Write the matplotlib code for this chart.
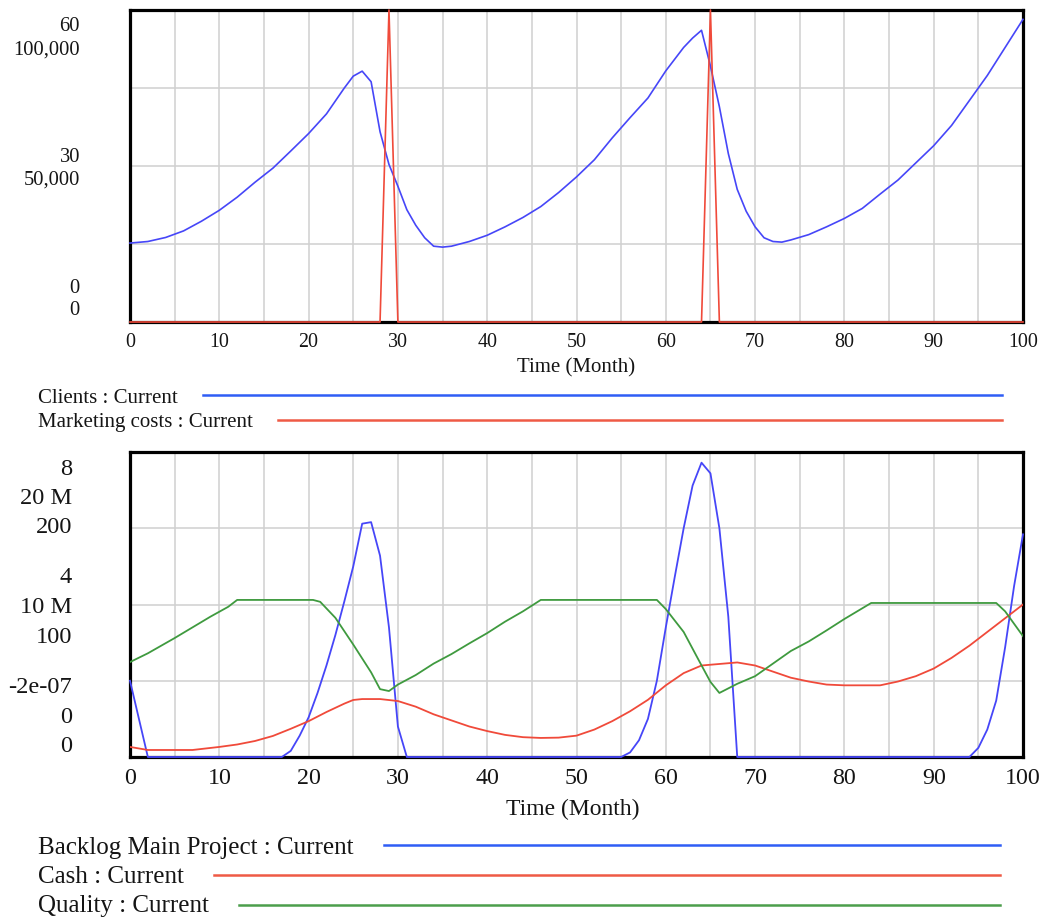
import numpy as np
import matplotlib.pyplot as plt
from matplotlib.lines import Line2D

plt.rcParams['font.family'] = ['Liberation Serif', 'DejaVu Serif']

# ---- upper panel: Clients and Marketing costs over time (months) ----
clients_t = [0, 2, 4, 6, 8, 10, 12, 14, 16, 18, 20, 22, 24, 25, 26, 27, 28, 29, 30,
             31, 32, 33, 34, 35, 36, 38, 40, 42, 44, 46, 48, 50, 52, 54, 56, 58, 60,
             62, 63, 64, 65, 66, 67, 68, 69, 70, 71, 72, 73, 74, 76, 78, 80, 82, 84,
             86, 88, 90, 92, 94, 96, 98, 100]
clients = [25300, 25800, 27100, 29200, 32300, 35800, 40000, 44800, 49300, 54800,
           60400, 66700, 75000, 78800, 80400, 77000, 61000, 50500, 43500,
           36000, 31000, 27000, 24300, 24000, 24300, 25800, 27800, 30500, 33500,
           37000, 41500, 46500, 52000, 59000, 65500, 71800, 80500,
           88000, 91000, 93500, 82000, 69000, 54000, 42500, 35500, 30500, 27000,
           25800, 25600, 26300, 28000, 30500, 33200, 36400, 41000,
           45500, 51000, 56500, 63000, 71000, 79000, 88000, 97000]

marketing_t = [0, 28, 29, 30, 64, 65, 66, 100]
marketing = [0, 0, 60, 0, 0, 60, 0, 0]

# ---- lower panel: Backlog, Cash (millions) and Quality ----
backlog_t = [0, 2, 17, 18, 19, 20, 21, 22, 23, 24, 25, 26, 27, 28, 29, 30, 31,
             55, 56, 57, 58, 59, 60, 61, 62, 63, 64, 65, 66, 67, 68,
             94, 95, 96, 97, 98, 99, 100]
backlog = [50, 0, 0, 4, 14, 26, 42, 60, 80, 102, 125, 153, 154, 132, 85, 20, 0,
           0, 3, 11, 25, 50, 85, 118, 150, 178, 193, 186, 150, 92, 0,
           0, 6, 18, 37, 72, 112, 146]

cash_t = [0, 2, 7, 10, 12, 14, 16, 18, 20, 22, 24, 25, 26, 28, 30, 32, 34, 36, 38,
          40, 42, 44, 46, 48, 50, 52, 54, 56, 58, 60, 62, 64, 66, 68, 70, 72, 74,
          76, 78, 80, 84, 86, 88, 90, 92, 94, 96, 98, 100]
cash_m = [0.66, 0.46, 0.46, 0.66, 0.82, 1.05, 1.38, 1.85, 2.35, 2.95, 3.5, 3.74,
          3.8, 3.8, 3.67, 3.3, 2.8, 2.4, 2.0, 1.7, 1.45, 1.3, 1.25, 1.27, 1.4,
          1.8, 2.35, 3.0, 3.75, 4.7, 5.5, 6.0, 6.1, 6.2, 6.0, 5.6, 5.2, 4.95,
          4.75, 4.7, 4.7, 4.95, 5.3, 5.8, 6.5, 7.3, 8.2, 9.1, 10.0]

quality_t = [0, 2, 5, 7, 9, 11, 12, 20.5, 21.3, 23, 25, 27, 28, 29, 30, 32, 34, 36,
             38, 40, 42, 44, 46, 59, 60, 62, 63.8, 65, 66, 68, 70, 72, 74, 76, 78,
             80, 82, 83, 97, 98, 100]
quality = [2.49, 2.72, 3.12, 3.4, 3.68, 3.94, 4.12, 4.12, 4.07, 3.65, 2.95, 2.22,
           1.78, 1.73, 1.9, 2.15, 2.45, 2.7, 2.98, 3.25, 3.55, 3.82, 4.12, 4.12,
           3.88, 3.28, 2.49, 1.97, 1.68, 1.92, 2.12, 2.45, 2.78, 3.03, 3.32, 3.62,
           3.9, 4.04, 4.04, 3.82, 3.17]

# stacked scale labels (top, middle, bottom of each panel)
top_scale_labels = [["60", "100,000"], ["30", "50,000"], ["0", "0"]]
bottom_scale_labels = [["8", "20 M", "200"], ["4", "10 M", "100"], ["-2e-07", "0", "0"]]

top_legend = ["Clients : Current", "Marketing costs : Current"]
bottom_legend = ["Backlog Main Project : Current", "Cash : Current", "Quality : Current"]

BLUE = '#4646f8'
RED = '#f04a3a'
GREEN = '#3f9a3f'
LEG_BLUE = '#2f5df5'
LEG_RED = '#ef5a45'
LEG_GREEN = '#4c9e4c'
TXT = '#151515'

W, H = 1045, 920
fig = plt.figure(figsize=(W / 100, H / 100), dpi=100)


def fx(px):
    return px / W


def fy(py):
    return 1 - py / H


def make_panel(top, bottom, tick_size, tick_pad):
    ax = fig.add_axes([fx(130), fy(bottom), fx(1023) - fx(130), (bottom - top) / H])
    ax.set_xlim(0, 100)
    ax.set_ylim(0, 4)
    ax.set_xticks(range(0, 101, 10))
    ax.set_xticks(range(0, 101, 5), minor=True)
    ax.set_yticks([1, 2, 3])
    ax.tick_params(which='both', length=0)
    ax.tick_params(axis='y', labelleft=False)
    ax.tick_params(axis='x', labelsize=tick_size, pad=tick_pad, labelcolor=TXT)
    ax.grid(True, which='both', color='#d0d0d0', lw=1.1)
    ax.set_axisbelow(True)
    for s in ax.spines.values():
        s.set_linewidth(2.3)
        s.set_color('black')
    return ax


def series_axis(ax, vmax):
    tw = ax.twinx()
    tw.set_xlim(0, 100)
    tw.set_ylim(0, vmax)
    tw.axis('off')
    return tw


# upper panel
ax1 = make_panel(11, 323, 14.4, 7)
a_cl = series_axis(ax1, 100000)
a_cl.plot(clients_t, clients, color=BLUE, lw=1.2, clip_on=False)
a_mk = series_axis(ax1, 60)
a_mk.plot(marketing_t, marketing, color=RED, lw=1.2, clip_on=False)

# lower panel
ax2 = make_panel(453, 758, 17.3, 7)
a_bl = series_axis(ax2, 200)
a_bl.plot(backlog_t, backlog, color=BLUE, lw=1.3, clip_on=False)
a_cs = series_axis(ax2, 20)
a_cs.plot(cash_t, cash_m, color=RED, lw=1.3)
a_q = series_axis(ax2, 8)
a_q.plot(quality_t, quality, color=GREEN, lw=1.3)

# scale labels to the left of each panel
top_baselines = [[31, 55], [162, 185], [293, 315]]
for labels, ys in zip(top_scale_labels, top_baselines):
    for lab, y in zip(labels, ys):
        fig.text(fx(80), fy(y), lab, ha='right', va='baseline', fontsize=14.8, color=TXT)

bottom_baselines = [[475, 504, 533], [583, 613, 643], [693, 723, 752]]
for labels, ys in zip(bottom_scale_labels, bottom_baselines):
    for lab, y in zip(labels, ys):
        fig.text(fx(72), fy(y), lab, ha='right', va='baseline', fontsize=17.6, color=TXT)

# axis titles
fig.text(fx(576), fy(372), "Time (Month)", ha='center', va='baseline', fontsize=15, color=TXT)
fig.text(fx(573), fy(815), "Time (Month)", ha='center', va='baseline', fontsize=17, color=TXT)

# legends: label text followed by a line sample
renderer = fig.canvas.get_renderer()


def legend_row(label, baseline, line_y, color, size, gap, x_end):
    t = fig.text(fx(38), fy(baseline), label, ha='left', va='baseline', fontsize=size, color=TXT)
    x0 = t.get_window_extent(renderer).x1 + gap
    fig.add_artist(Line2D([fx(x0), fx(x_end)], [fy(line_y), fy(line_y)],
                          transform=fig.transFigure, color=color, lw=1.8))


legend_row(top_legend[0], 403, 396, LEG_BLUE, 15, 25, 1002)
legend_row(top_legend[1], 427, 421, LEG_RED, 15, 25, 1002)
legend_row(bottom_legend[0], 854, 846, LEG_BLUE, 18, 30, 1000)
legend_row(bottom_legend[1], 883, 876, LEG_RED, 18, 30, 1000)
legend_row(bottom_legend[2], 912, 906, LEG_GREEN, 18, 30, 1000)

fig.savefig('out.png', dpi=100, facecolor='white')
